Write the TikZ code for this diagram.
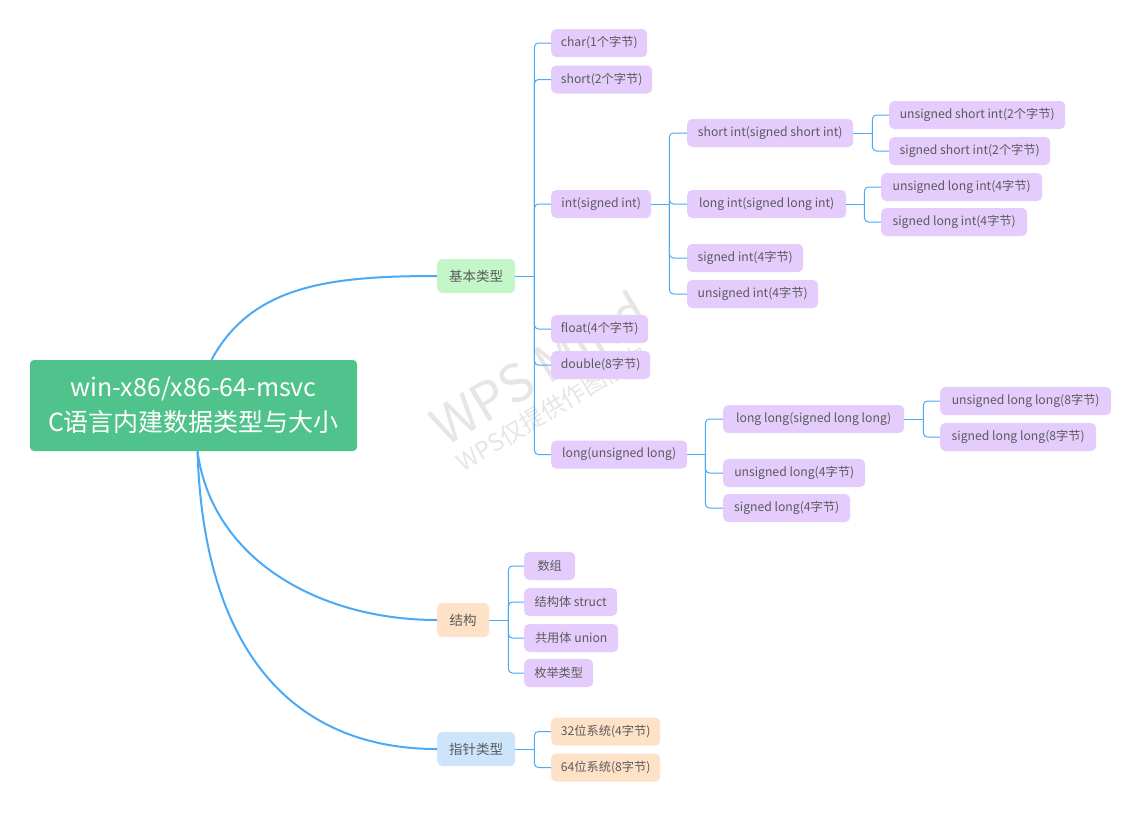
\documentclass[tikz,border=0pt]{standalone}
\usepackage{fontspec}
\setmainfont{Noto Sans CJK SC}
\definecolor{rootc}{HTML}{50C28B}
\definecolor{greenc}{HTML}{C3F7C8}
\definecolor{peachc}{HTML}{FDE2C8}
\definecolor{bluec}{HTML}{CDE5FB}
\definecolor{leafc}{HTML}{E4CDFC}
\definecolor{linec}{HTML}{4BA9F5}
\definecolor{txtc}{HTML}{5B5B5B}
\definecolor{wmc}{HTML}{E6E6E6}
\tikzset{
  rootbox/.style={fill=rootc, rounded corners=4pt, text=white, align=center,
    font=\fontsize{25}{35}\selectfont, inner sep=0pt, minimum width=327pt, minimum height=91pt},
  topicbox/.style={rounded corners=5pt, text=txtc, anchor=west, inner sep=0pt,
    font=\fontsize{13.5}{15}\selectfont, minimum height=34pt},
  leafbox/.style={fill=leafc, rounded corners=5pt, text=txtc, anchor=west, inner sep=0pt,
    font=\fontsize{12.2}{14}\selectfont, minimum height=28pt},
  mainline/.style={draw=linec, line width=2pt},
  subline/.style={draw=linec, line width=1pt},
  subcurve/.style={draw=linec, line width=1pt, rounded corners=4pt},
  wmark/.style={text=wmc, rotate=31}
}
\begin{document}
\begin{tikzpicture}[x=1pt,y=-1pt]
\useasboundingbox[fill=white] (0,0) rectangle (1141,812);

% watermark
\node[wmark, font=\fontsize{52}{52}\selectfont] (wm1) at (538,368) {WPS Mind};
\node[wmark, font=\fontsize{24}{24}\selectfont] (wm2) at (552,408) {WPS仅提供作图能力};

% root and topics
\node[rootbox] (root) at (193.5,405.5) {win-x86/x86-64-msvc\\C语言内建数据类型与大小};
\node[topicbox, fill=greenc, minimum width=78pt] (basic) at (437,276) {基本类型};
\node[topicbox, fill=peachc, minimum width=52pt] (struc) at (437,620) {结构};
\node[topicbox, fill=bluec, minimum width=78pt] (ptr) at (437,749) {指针类型};

\draw[mainline] ([xshift=18pt]root.north) .. controls (252,285) and (330,276) .. (basic.west);
\draw[mainline] ([xshift=4pt]root.south) .. controls (212,560) and (320,620) .. (struc.west);
\draw[mainline] ([xshift=4pt]root.south) .. controls (204,660) and (300,749) .. (ptr.west);

% basic type leaves
\node[leafbox, minimum width=96pt] (char) at (551,43) {char(1个字节)};
\node[leafbox, minimum width=101pt] (short) at (551,79.5) {short(2个字节)};
\node[leafbox, minimum width=100pt] (int) at (551,204) {int(signed int)};
\node[leafbox, minimum width=97pt] (float) at (551,329) {float(4个字节)};
\node[leafbox, minimum width=99pt] (double) at (551,365) {double(8字节)};
\node[leafbox, minimum width=136pt] (long) at (551,454.5) {long(unsigned long)};

\node[leafbox, minimum width=166pt] (shortint) at (687,133) {short int(signed short int)};
\node[leafbox, minimum width=159pt] (longint) at (687,204) {long int(signed long int)};
\node[leafbox, minimum width=116pt] (signedint) at (687,258) {signed int(4字节)};
\node[leafbox, minimum width=131pt] (unsignedint) at (687,294) {unsigned int(4字节)};

\node[leafbox, minimum width=176pt] (ushortint) at (889,115) {unsigned short int(2个字节)};
\node[leafbox, minimum width=161pt] (sshortint) at (889,151) {signed short int(2个字节)};
\node[leafbox, minimum width=161pt] (ulongint) at (881,187) {unsigned long int(4字节)};
\node[leafbox, minimum width=146pt] (slongint) at (881,222) {signed long int(4字节)};

\node[leafbox, minimum width=181pt] (longlong) at (723,419) {long long(signed long long)};
\node[leafbox, minimum width=142pt] (ulong) at (723,473) {unsigned long(4字节)};
\node[leafbox, minimum width=127pt] (slong) at (723,508) {signed long(4字节)};

\node[leafbox, minimum width=171pt] (ull) at (940,401) {unsigned long long(8字节)};
\node[leafbox, minimum width=156pt] (sll) at (940,437) {signed long long(8字节)};

% struct leaves
\node[leafbox, minimum width=51pt] (arr) at (524,566) {数组};
\node[leafbox, minimum width=93pt] (stru) at (524,602) {结构体 struct};
\node[leafbox, minimum width=94pt] (uni) at (524,638) {共用体 union};
\node[leafbox, minimum width=69pt] (enu) at (524,673) {枚举类型};

% pointer leaves
\node[leafbox, fill=peachc, minimum width=109pt] (p32) at (551,731.5) {32位系统(4字节)};
\node[leafbox, fill=peachc, minimum width=109pt] (p64) at (551,767.5) {64位系统(8字节)};

% connectors
\draw[subline] (basic.east) -- ++(19,0) coordinate (jb);
\foreach \c in {char,short,int,float,double,long} \draw[subcurve] (jb) |- (\c.west);

\draw[subline] (int.east) -- ++(18,0) coordinate (ji);
\foreach \c in {shortint,longint,signedint,unsignedint} \draw[subcurve] (ji) |- (\c.west);

\draw[subline] (shortint.east) -- ++(19,0) coordinate (jsi);
\foreach \c in {ushortint,sshortint} \draw[subcurve] (jsi) |- (\c.west);

\draw[subline] (longint.east) -- ++(18,0) coordinate (jli);
\foreach \c in {ulongint,slongint} \draw[subcurve] (jli) |- (\c.west);

\draw[subline] (long.east) -- ++(18,0) coordinate (jl);
\foreach \c in {longlong,ulong,slong} \draw[subcurve] (jl) |- (\c.west);

\draw[subline] (longlong.east) -- ++(19,0) coordinate (jll);
\foreach \c in {ull,sll} \draw[subcurve] (jll) |- (\c.west);

\draw[subline] (struc.east) -- ++(19,0) coordinate (js);
\foreach \c in {arr,stru,uni,enu} \draw[subcurve] (js) |- (\c.west);

\draw[subline] (ptr.east) -- ++(19,0) coordinate (jp);
\foreach \c in {p32,p64} \draw[subcurve] (jp) |- (\c.west);
\end{tikzpicture}
\end{document}
